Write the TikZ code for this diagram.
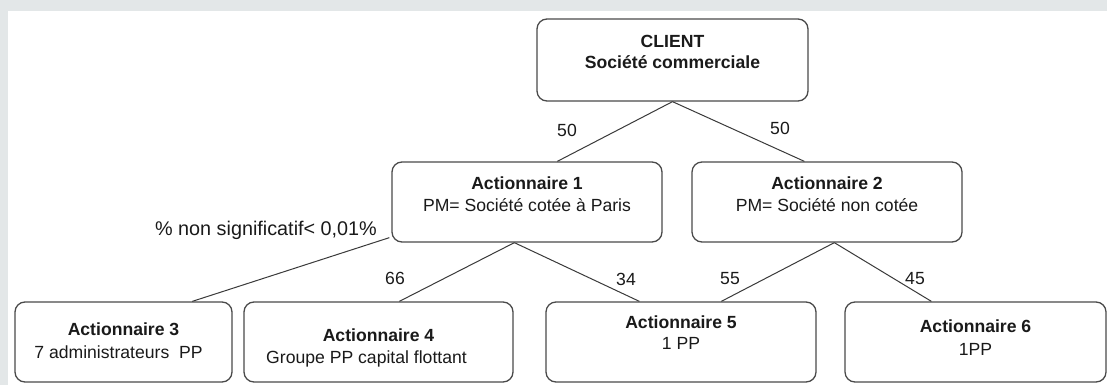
\documentclass[tikz,border=0pt]{standalone}
\usepackage{fontspec}
\setmainfont{Liberation Sans}
\definecolor{bgg}{HTML}{E3E7E8}
\definecolor{boxc}{HTML}{4A4A4A}
\definecolor{linec}{HTML}{3A3A3A}
\definecolor{txtc}{HTML}{1A1A1A}
\begin{document}
\begin{tikzpicture}[x=1pt,y=-1pt,
  box/.style={draw=boxc, line width=1.3pt, rounded corners=10pt, inner sep=0pt, fill=white},
  txt/.style={align=center, inner sep=0pt, anchor=north, text=txtc, font=\fontsize{17.6}{22}\selectfont},
  lbl/.style={inner sep=0pt, text=txtc, font=\fontsize{17.6}{20}\selectfont},
  conn/.style={draw=linec, line width=1pt}]
\useasboundingbox (0,0) rectangle (1107,385);
\fill[bgg] (0,0) rectangle (1107,385);
\fill[white] (8,11) rectangle (1107,385);
% boxes
\node[box, minimum width=271pt, minimum height=82pt] (c) at (672.5,60) {};
\node[box, minimum width=270pt, minimum height=80pt] (a1) at (527,202) {};
\node[box, minimum width=270pt, minimum height=80pt] (a2) at (827,202) {};
\node[box, minimum width=217pt, minimum height=80pt] (a3) at (123.5,342) {};
\node[box, minimum width=269pt, minimum height=80pt] (a4) at (378.5,342) {};
\node[box, minimum width=270pt, minimum height=80pt] (a5) at (681,342) {};
\node[box, minimum width=261pt, minimum height=80pt] (a6) at (975.5,342) {};
% texts
\node[txt, font=\bfseries\fontsize{17.6}{21}\selectfont] (tc) at ([yshift=-17pt]c.north) {CLIENT\\Société commerciale};
\node[txt] (t1) at ([yshift=-15pt]a1.north) {\textbf{Actionnaire 1}\\PM= Société cotée à Paris};
\node[txt] (t2) at ([yshift=-15pt]a2.north) {\textbf{Actionnaire 2}\\PM= Société non cotée};
\node[txt, font=\fontsize{17.6}{23}\selectfont] (t3) at ([yshift=-21pt]a3.north) {\textbf{Actionnaire 3}\\7 administrateurs\ \ PP\hspace*{10pt}};
\node[txt] (t4) at ([yshift=-27pt]a4.north) {\textbf{Actionnaire 4}\\Groupe PP capital flottant\hspace*{24pt}};
\node[txt, font=\fontsize{17.6}{21}\selectfont] (t5) at ([yshift=-14pt]a5.north) {\textbf{Actionnaire 5}\\1 PP};
\node[txt, font=\fontsize{17.6}{23}\selectfont] (t6) at ([yshift=-18pt]a6.north) {\textbf{Actionnaire 6}\\1PP};
% connectors
\draw[conn] (c.south) -- ([xshift=166pt]a1.north west);
\draw[conn] (c.south) -- ([xshift=113pt]a2.north west);
\draw[conn] ([xshift=-2pt,yshift=5pt]a1.south west) -- ([xshift=178pt]a3.north west);
\draw[conn] ([xshift=123pt]a1.south west) -- ([xshift=156pt]a4.north west);
\draw[conn] ([xshift=123pt]a1.south west) -- ([xshift=94pt]a5.north west);
\draw[conn] ([xshift=143pt]a2.south west) -- ([xshift=176pt]a5.north west);
\draw[conn] ([xshift=143pt]a2.south west) -- ([xshift=87pt]a6.north west);
% labels
\node[lbl] (l1) at (567,130) {50};
\node[lbl] (l2) at (780,128) {50};
\node[lbl] (l3) at (395,278) {66};
\node[lbl] (l4) at (626,279) {34};
\node[lbl] (l5) at (730,279) {55};
\node[lbl] (l6) at (915,279) {45};
\node[lbl, font=\fontsize{19.8}{22}\selectfont] (l7) at (266,230) {\% non significatif< 0,01\%};
\end{tikzpicture}
\end{document}
